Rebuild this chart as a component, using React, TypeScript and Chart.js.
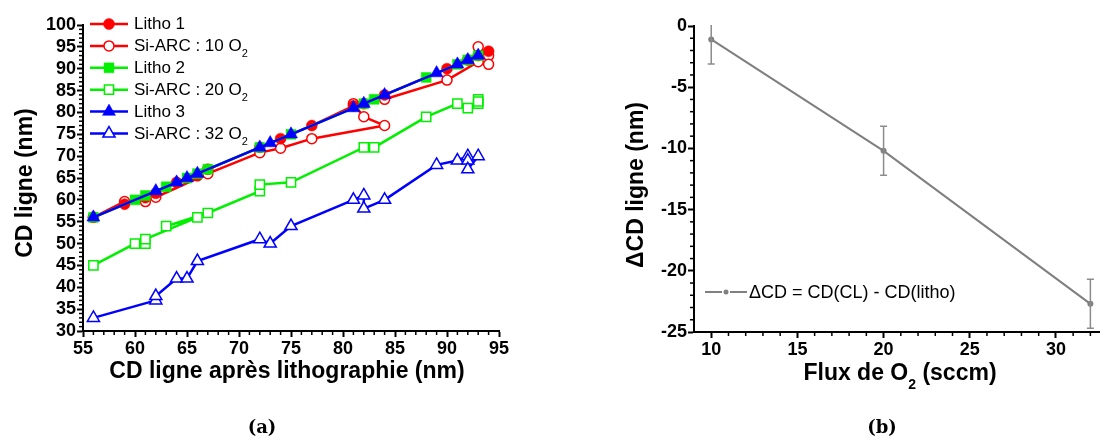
import React, { useEffect, useRef } from "react";
import { Chart, registerables } from "chart.js";

Chart.register(...registerables);

const FONT = "'Liberation Sans', Arial, Helvetica, sans-serif";

// ---------- Panel (a) data ----------
const seriesLabels = [
  "Litho 1",
  "Si-ARC : 10 O₂",
  "Litho 2",
  "Si-ARC : 20 O₂",
  "Litho 3",
  "Si-ARC : 32 O₂",
];

const litho1X = [56, 59, 61, 62, 64, 66, 67, 72, 74, 77, 81, 82, 84, 90, 92, 93, 94];
const litho1Y = [56, 59, 60.5, 61.5, 64, 65.5, 67, 72, 74, 77, 81.5, 82, 84, 90, 92, 93, 94];

const arc10X = [56, 59, 61, 62, 67, 72, 74, 77, 84, 82, 81, 84, 90, 93, 93, 94, 94];
const arc10Y = [56, 59.6, 59.6, 60.6, 66, 70.8, 71.8, 74, 77, 79, 82, 83, 87.4, 91.6, 95, 93, 91];

const litho2X = [56, 60, 61, 63, 65, 66, 67, 72, 75, 82, 83, 88, 91, 92, 93];
const litho2Y = [56, 60, 61, 63, 65, 66, 67, 72, 75, 82, 83, 88, 91, 92, 93];

const arc20X = [56, 60, 61, 61, 66, 63, 67, 72, 72, 75, 82, 83, 88, 91, 92, 93, 93, 93];
const arc20Y = [45, 50, 50, 51, 56, 54, 57, 62, 63.5, 64, 72, 72, 79, 82, 81, 82, 83, 82.5];

const litho3X = [56, 62, 64, 65, 66, 72, 73, 75, 81, 82, 84, 89, 91, 92, 93];
const litho3Y = [56, 62, 64, 65, 66, 72, 73, 75, 81, 82, 84, 89, 91, 92, 93];

const arc32X = [56, 62, 62, 64, 65, 66, 72, 73, 75, 81, 82, 82, 84, 89, 91, 92, 92, 92, 93];
const arc32Y = [33, 37, 38, 42, 42, 46, 51, 50, 54, 60, 61, 58, 60, 68, 69, 70, 69, 67, 70];

const aXTicks = [55, 60, 65, 70, 75, 80, 85, 90, 95];
const aYTicks = [30, 35, 40, 45, 50, 55, 60, 65, 70, 75, 80, 85, 90, 95, 100];
const aXTitle = "CD ligne après lithographie (nm)";
const aYTitle = "CD ligne (nm)";

// ---------- Panel (b) data ----------
const fluxO2 = [10, 20, 32];
const deltaCD = [-1.1, -10.2, -22.7];
const deltaErr = [2, 2, 2];
const bXTicks = [10, 15, 20, 25, 30];
const bYTicks = [-25, -20, -15, -10, -5, 0];
const bLegend = "ΔCD = CD(CL) - CD(litho)";
const bXTitle = "Flux de O₂ (sccm)";
const bYTitle = "ΔCD ligne (nm)";

// ---------- helpers ----------
function drawRich(ctx: CanvasRenderingContext2D, text: string, x: number, y: number, size: number, weight: string, align: string) {
  const runs: { t: string; sub: boolean; w: number }[] = [];
  for (const ch of text) {
    const sub = ch === "₂";
    const c = sub ? "2" : ch;
    const last = runs[runs.length - 1];
    if (last && last.sub === sub) last.t += c;
    else runs.push({ t: c, sub, w: 0 });
  }
  const subSize = Math.round(size * 0.62);
  const fN = `${weight} ${size}px ${FONT}`;
  const fS = `${weight} ${subSize}px ${FONT}`;
  let total = 0;
  for (const r of runs) {
    ctx.font = r.sub ? fS : fN;
    r.w = ctx.measureText(r.t).width;
    total += r.w;
  }
  let cx = align === "center" ? x - total / 2 : align === "right" ? x - total : x;
  ctx.textAlign = "left";
  ctx.textBaseline = "alphabetic";
  for (const r of runs) {
    ctx.font = r.sub ? fS : fN;
    ctx.fillText(r.t, cx, y + (r.sub ? size * 0.37 : 0));
    cx += r.w;
  }
}

function drawMarker(ctx: CanvasRenderingContext2D, style: string, x: number, y: number, r: number, fill: string, stroke: string, lw: number) {
  ctx.beginPath();
  if (style === "circle") {
    ctx.arc(x, y, r, 0, Math.PI * 2);
  } else if (style === "rect") {
    const s = r * Math.SQRT1_2;
    ctx.rect(x - s, y - s, 2 * s, 2 * s);
  } else {
    const t = (2 * Math.PI) / 3;
    ctx.moveTo(x, y - r);
    ctx.lineTo(x + Math.sin(t) * r, y - Math.cos(t) * r);
    ctx.lineTo(x + Math.sin(2 * t) * r, y - Math.cos(2 * t) * r);
    ctx.closePath();
  }
  ctx.fillStyle = fill;
  ctx.fill();
  ctx.lineWidth = lw;
  ctx.strokeStyle = stroke;
  ctx.stroke();
}

function minorTicksPlugin(step: number) {
  return {
    id: "minorTicks",
    afterDraw(chart: any) {
      const { ctx, chartArea } = chart;
      const x = chart.scales.x;
      const y = chart.scales.y;
      ctx.save();
      ctx.strokeStyle = "#000";
      ctx.lineWidth = 1.5;
      const isMajor = (s: any, v: number) => s.ticks.some((t: any) => Math.abs(t.value - v) < 1e-6);
      for (let v = Math.ceil(x.min / step) * step; v <= x.max + 1e-9; v += step) {
        if (isMajor(x, v) || Math.abs(v - x.min) < 1e-9) continue;
        const px = x.getPixelForValue(v);
        ctx.beginPath();
        ctx.moveTo(px, chartArea.bottom);
        ctx.lineTo(px, chartArea.bottom + 4);
        ctx.stroke();
      }
      for (let v = Math.ceil(y.min / step) * step; v <= y.max + 1e-9; v += step) {
        if (isMajor(y, v)) continue;
        const py = y.getPixelForValue(v);
        ctx.beginPath();
        ctx.moveTo(chartArea.left, py);
        ctx.lineTo(chartArea.left - 4, py);
        ctx.stroke();
      }
      ctx.restore();
    },
  };
}

function titlesPlugin(xTitle: string, xCenter: number, xBase: number, yTitle: string, yBase: number, yCenter: number, size: number) {
  return {
    id: "axisTitles",
    afterDraw(chart: any) {
      const ctx = chart.ctx;
      ctx.save();
      ctx.fillStyle = "#000";
      drawRich(ctx, xTitle, xCenter, xBase, size, "bold", "center");
      ctx.translate(yBase, yCenter);
      ctx.rotate(-Math.PI / 2);
      drawRich(ctx, yTitle, 0, 0, size, "bold", "center");
      ctx.restore();
    },
  };
}

function scaleOpts(min: number, max: number, ticks: number[], fitSize: number, horizontal: boolean) {
  return {
    type: "linear",
    min,
    max,
    afterBuildTicks: (s: any) => {
      s.ticks = ticks.map((v) => ({ value: v }));
    },
    afterFit: (s: any) => {
      if (horizontal) {
        s.height = fitSize;
        s.paddingLeft = 0;
        s.paddingRight = 0;
      } else {
        s.width = fitSize;
        s.paddingTop = 0;
        s.paddingBottom = 0;
      }
    },
    grid: {
      display: true,
      drawOnChartArea: false,
      drawTicks: true,
      tickLength: 6,
      tickWidth: 2,
      tickColor: "#000",
    },
    border: { display: true, color: "#000", width: 2 },
    ticks: {
      color: "#000",
      padding: 1,
      autoSkip: false,
      maxRotation: 0,
      minRotation: 0,
      font: { family: FONT, size: 18, weight: "bold" },
    },
  };
}

const aStyles = [
  { color: "#ff0000", style: "circle", r: 5.5, hollow: false, order: 3 },
  { color: "#ff0000", style: "circle", r: 5, hollow: true, order: 4 },
  { color: "#00f000", style: "rect", r: 7, hollow: false, order: 2 },
  { color: "#00f000", style: "rect", r: 6.5, hollow: true, order: 5 },
  { color: "#0000ff", style: "triangle", r: 7.5, hollow: false, order: 1 },
  { color: "#0000ff", style: "triangle", r: 7, hollow: true, order: 6 },
];

const CANVAS_H = 439;

function configA(): any {
  const xs = [litho1X, arc10X, litho2X, arc20X, litho3X, arc32X];
  const ys = [litho1Y, arc10Y, litho2Y, arc20Y, litho3Y, arc32Y];
  const datasets = seriesLabels.map((label, k) => {
    const st = aStyles[k];
    return {
      label,
      data: xs[k].map((x, i) => ({ x, y: ys[k][i] })),
      borderColor: st.color,
      backgroundColor: st.color,
      borderWidth: 2.5,
      pointStyle: st.style,
      pointRadius: st.r,
      pointBackgroundColor: st.hollow ? "#ffffff" : st.color,
      pointBorderColor: st.color,
      pointBorderWidth: st.hollow ? 1.5 : 0.5,
      tension: 0,
      fill: false,
      order: st.order,
    };
  });
  const legendPlugin = {
    id: "legendA",
    afterDraw(chart: any) {
      const ctx = chart.ctx;
      ctx.save();
      seriesLabels.forEach((label, k) => {
        const st = aStyles[k];
        const cy = 24 + k * 21.9;
        ctx.strokeStyle = st.color;
        ctx.lineWidth = 2.5;
        ctx.beginPath();
        ctx.moveTo(90, cy);
        ctx.lineTo(128, cy);
        ctx.stroke();
        drawMarker(ctx, st.style, 109, cy, st.r, st.hollow ? "#fff" : st.color, st.color, st.hollow ? 1.5 : 0.5);
        ctx.fillStyle = "#000";
        drawRich(ctx, label, 134, cy + 5, 17, "normal", "left");
      });
      ctx.restore();
    },
  };
  return {
    type: "line",
    data: { datasets },
    options: {
      animation: false,
      responsive: false,
      maintainAspectRatio: false,
      layout: { padding: { left: 0, top: 25, right: 61, bottom: 0 } },
      plugins: { legend: { display: false }, tooltip: { enabled: false } },
      scales: {
        x: scaleOpts(55, 95, aXTicks, CANVAS_H - 331, true),
        y: scaleOpts(30, 100, aYTicks, 83, false),
      },
    },
    plugins: [minorTicksPlugin(1), titlesPlugin(aXTitle, 287, 378, aYTitle, 32, 183, 23), legendPlugin],
  };
}

function configB(): any {
  const errPlugin = {
    id: "errorBars",
    afterDatasetsDraw(chart: any) {
      const { ctx, chartArea } = chart;
      const x = chart.scales.x;
      const y = chart.scales.y;
      ctx.save();
      ctx.beginPath();
      ctx.rect(chartArea.left, chartArea.top - 1, chartArea.right - chartArea.left, chartArea.bottom - chartArea.top + 2);
      ctx.clip();
      ctx.strokeStyle = "#8c8c8c";
      ctx.lineWidth = 1.5;
      fluxO2.forEach((f, i) => {
        const px = x.getPixelForValue(f);
        const top = y.getPixelForValue(deltaCD[i] + deltaErr[i]);
        const bot = y.getPixelForValue(deltaCD[i] - deltaErr[i]);
        ctx.beginPath();
        ctx.moveTo(px, top);
        ctx.lineTo(px, bot);
        ctx.moveTo(px - 3.5, top);
        ctx.lineTo(px + 3.5, top);
        ctx.moveTo(px - 3.5, bot);
        ctx.lineTo(px + 3.5, bot);
        ctx.stroke();
      });
      ctx.restore();
    },
  };
  const legendPlugin = {
    id: "legendB",
    afterDraw(chart: any) {
      const ctx = chart.ctx;
      ctx.save();
      ctx.strokeStyle = "#808080";
      ctx.lineWidth = 2;
      ctx.beginPath();
      ctx.moveTo(145, 292);
      ctx.lineTo(162, 292);
      ctx.moveTo(170, 292);
      ctx.lineTo(187, 292);
      ctx.stroke();
      ctx.fillStyle = "#808080";
      ctx.beginPath();
      ctx.arc(166, 292, 2.5, 0, Math.PI * 2);
      ctx.fill();
      ctx.fillStyle = "#000";
      drawRich(ctx, bLegend, 189, 298, 18, "normal", "left");
      ctx.restore();
    },
  };
  return {
    type: "line",
    data: {
      datasets: [
        {
          label: bLegend,
          data: fluxO2.map((x, i) => ({ x, y: deltaCD[i] })),
          borderColor: "#7f7f7f",
          backgroundColor: "#808080",
          borderWidth: 2,
          pointRadius: 3,
          pointBackgroundColor: "#808080",
          pointBorderWidth: 0,
          tension: 0,
          fill: false,
        },
      ],
    },
    options: {
      animation: false,
      responsive: false,
      maintainAspectRatio: false,
      layout: { padding: { left: 0, top: 26, right: 1, bottom: 0 } },
      plugins: { legend: { display: false }, tooltip: { enabled: false } },
      scales: {
        x: scaleOpts(9, 32.5, bXTicks, CANVAS_H - 332, true),
        y: scaleOpts(-25, 0, bYTicks, 134, false),
      },
    },
    plugins: [minorTicksPlugin(1), titlesPlugin(bXTitle, 340, 380, bYTitle, 83, 185, 23), errPlugin, legendPlugin],
  };
}

const captionStyle = (cx: number): React.CSSProperties => ({
  position: "absolute",
  left: cx - 40,
  width: 80,
  top: 415,
  lineHeight: "24px",
  textAlign: "center",
  fontFamily: "'DejaVu Serif', serif",
  fontWeight: "bold",
  fontSize: 18,
  color: "#000",
});

export default function App() {
  const refA = useRef<HTMLCanvasElement>(null);
  const refB = useRef<HTMLCanvasElement>(null);
  useEffect(() => {
    const a = new Chart(refA.current as HTMLCanvasElement, configA());
    const b = new Chart(refB.current as HTMLCanvasElement, configB());
    return () => {
      a.destroy();
      b.destroy();
    };
  }, []);
  return (
    <div style={{ position: "absolute", left: 0, top: 0, width: 1103, height: 439, background: "#fff", overflow: "hidden" }}>
      <canvas ref={refA} width={560} height={CANVAS_H} style={{ position: "absolute", left: 0, top: 0, width: 560, height: CANVAS_H }} />
      <canvas ref={refB} width={543} height={CANVAS_H} style={{ position: "absolute", left: 560, top: 0, width: 543, height: CANVAS_H }} />
      <div style={captionStyle(262)}>(a)</div>
      <div style={captionStyle(882)}>(b)</div>
    </div>
  );
}
